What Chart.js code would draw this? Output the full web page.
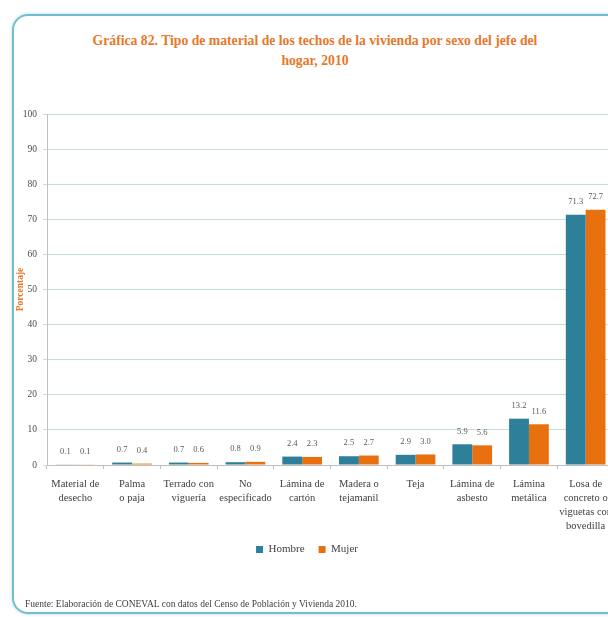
<!DOCTYPE html>
<html>
<head>
<meta charset="utf-8">
<script src="https://cdn.jsdelivr.net/npm/chart.js@4/dist/chart.umd.min.js"></script>
<style>
  body { margin: 0; background: #fff; overflow: hidden; width: 608px; height: 617px; position: relative; }
  #frame {
    position: absolute; left: 12px; top: 14px; width: 640px; height: 596px;
    border: 2px solid #6fbfcc; border-radius: 16px;
    box-shadow: 0 0 3px rgba(90, 170, 190, 0.5);
  }
  #title {
    position: absolute; left: 0; top: 31px; width: 630px; text-align: center;
    font-family: "Liberation Serif", serif; font-weight: bold; font-size: 13.7px;
    color: #e8782a; line-height: 20px;
  }
  #source {
    position: absolute; left: 25px; top: 599px;
    font-family: "Liberation Serif", serif; font-size: 9.5px; color: #404040;
  }
  #wrap { position: absolute; left: 0; top: 0; }
</style>
</head>
<body>
<div id="frame"></div>
<div id="title">Gráfica 82. Tipo de material de los techos de la vivienda por sexo del jefe del<br>hogar, 2010</div>
<div id="wrap"><canvas id="chart" width="640" height="600"></canvas></div>
<div id="source">Fuente: Elaboración de CONEVAL con datos del Censo de Población y Vivienda 2010.</div>
<script>
const categories = [
    ['Material de', 'desecho'],
    ['Palma', 'o paja'],
    ['Terrado con', 'viguería'],
    ['No', 'especificado'],
    ['Lámina de', 'cartón'],
    ['Madera o', 'tejamanil'],
    ['Teja'],
    ['Lámina de', 'asbesto'],
    ['Lámina', 'metálica'],
    ['Losa de', 'concreto o', 'viguetas con', 'bovedilla']
];
const hombre = [0.1, 0.7, 0.7, 0.8, 2.4, 2.5, 2.9, 5.9, 13.2, 71.3];
const mujer = [0.1, 0.4, 0.6, 0.9, 2.3, 2.7, 3.0, 5.6, 11.6, 72.7];

const serif = '"Liberation Serif", serif';

// value labels above each bar
const barLabels = {
    id: 'barLabels',
    afterDatasetsDraw(chart) {
        const ctx = chart.ctx;
        ctx.save();
        ctx.font = '8.5px ' + serif;
        ctx.fillStyle = '#595959';
        ctx.textAlign = 'center';
        ctx.textBaseline = 'middle';
        chart.data.datasets.forEach((ds, i) => {
            chart.getDatasetMeta(i).data.forEach((bar, j) => {
                ctx.fillText(ds.data[j].toFixed(1), bar.x, bar.y - 13);
            });
        });
        ctx.restore();
    }
};

const ctx = document.getElementById('chart').getContext('2d');
const chart = new Chart(ctx, {
    type: 'bar',
    data: {
        labels: categories,
        datasets: [
            { label: 'Hombre', data: hombre, backgroundColor: '#2e7f9a' },
            { label: 'Mujer', data: mujer, backgroundColor: '#e8700e' }
        ]
    },
    options: {
        responsive: false,
        animation: false,
        categoryPercentage: 0.7,
        barPercentage: 1.0,
        layout: { padding: { top: 114, right: 26, bottom: 35, left: 0 } },
        plugins: {
            legend: {
                position: 'bottom',
                labels: {
                    boxWidth: 7, boxHeight: 7, padding: 14,
                    color: '#404040',
                    font: { family: serif, size: 11 }
                }
            },
            tooltip: { enabled: false }
        },
        scales: {
            x: {
                grid: { drawOnChartArea: false, drawTicks: true, tickLength: 4, color: '#bfbfbf' },
                border: { color: '#bfbfbf' },
                ticks: {
                    maxRotation: 0, autoSkip: false, padding: 8,
                    color: '#404040',
                    font: { family: serif, size: 10.5, lineHeight: 1.35 }
                },
                afterFit(scale) { scale.height = 65; }
            },
            y: {
                min: 0, max: 100,
                ticks: { stepSize: 10, color: '#4d4d4d', padding: 6, font: { family: serif, size: 9.5 } },
                grid: { color: '#c9dcdf', tickLength: 4 },
                border: { color: '#bfbfbf' },
                title: {
                    display: true, text: 'Porcentaje', color: '#e8782a',
                    font: { family: serif, size: 9.5, weight: 'bold' },
                    padding: { top: 15, bottom: 0 }
                },
                afterFit(scale) { scale.width = 47; }
            }
        }
    },
    plugins: [barLabels]
});
</script>
</body>
</html>
